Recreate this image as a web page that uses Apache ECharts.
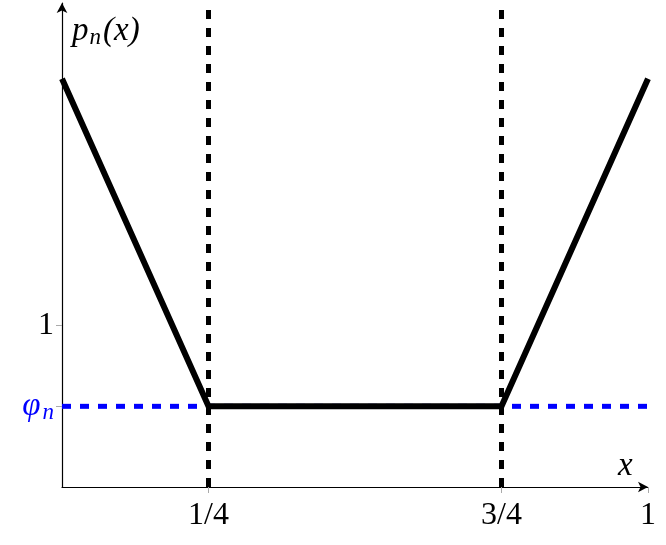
<!DOCTYPE html>
<html>
<head>
<meta charset="utf-8">
<script src="https://cdn.jsdelivr.net/npm/echarts@6/dist/echarts.min.js"></script>
<style>
  html, body { margin: 0; padding: 0; background: #fff; }
  #chart { width: 666px; height: 545px; }
</style>
</head>
<body>
<div id="chart"></div>
<script>
// 折线 p_n(x) 的拐点
const xs = [0, 0.25, 0.75, 1];
const pn = [2.53, 0.5, 0.5, 2.53];
// φ_n 的水平线
const phi = 0.5;
// 竖直虚线位置
const cuts = [0.25, 0.75];
// 刻度
const xTicks = [0.25, 0.75, 1];
const xTickLabels = ['1/4', '3/4', '1'];
const yTicks = [0.5, 1];

const font = 'Liberation Serif';

function initChart() {
    const chart = echarts.init(document.getElementById('chart'));

    const series = [
        {
            name: 'phi',
            type: 'line',
            data: [[0, phi], [1, phi]],
            symbol: 'none',
            lineStyle: { color: '#0000ff', width: 5, type: [9, 9] },
            z: 2
        }
    ];
    cuts.forEach(function (c) {
        series.push({
            type: 'line',
            data: [[c, 0], [c, 3]],
            symbol: 'none',
            lineStyle: { color: '#000', width: 5, type: [9, 9] },
            z: 3
        });
    });
    series.push({
        name: 'pn',
        type: 'line',
        data: xs.map(function (x, i) { return [x, pn[i]]; }),
        symbol: 'none',
        lineStyle: { color: '#000', width: 6, join: 'miter' },
        z: 4
    });

    const option = {
        animation: false,
        grid: { left: 62, right: 18, top: 3, bottom: 58 },
        xAxis: {
            type: 'value',
            min: 0,
            max: 1,
            name: 'x',
            nameLocation: 'end',
            nameGap: -30,
            nameTextStyle: {
                fontFamily: font, fontStyle: 'italic', fontSize: 33, color: '#000',
                verticalAlign: 'bottom', padding: [0, 0, 4, 0]
            },
            axisLine: {
                lineStyle: { color: '#000', width: 1.2 },
                symbol: ['none', 'arrow'],
                symbolSize: [8, 10]
            },
            axisTick: {
                customValues: xTicks,
                length: 6,
                lineStyle: { color: '#aaa' }
            },
            axisLabel: {
                customValues: xTicks,
                formatter: function (v) {
                    return xTickLabels[xTicks.indexOf(v)];
                },
                fontFamily: font, fontSize: 32, color: '#000', margin: 13
            },
            splitLine: { show: false }
        },
        yAxis: {
            type: 'value',
            min: 0,
            max: 3,
            name: '{p|p}{n|n}{p|(x)}',
            nameLocation: 'end',
            nameGap: -46,
            nameTextStyle: {
                align: 'left',
                padding: [0, 0, 0, 10],
                rich: {
                    p: { fontFamily: font, fontStyle: 'italic', fontSize: 33, color: '#000' },
                    n: { fontFamily: font, fontStyle: 'italic', fontSize: 23, color: '#000', padding: [13, 2, 0, 1] }
                }
            },
            axisLine: {
                show: true,
                lineStyle: { color: '#000', width: 1.2 },
                symbol: ['none', 'arrow'],
                symbolSize: [8, 10]
            },
            axisTick: {
                customValues: yTicks,
                length: 6,
                lineStyle: { color: '#aaa' }
            },
            axisLabel: {
                customValues: yTicks,
                formatter: function (v) {
                    return v === phi ? '{phi|φ}{sub|n}' : '{one|' + v + '}';
                },
                margin: 8,
                rich: {
                    phi: { fontFamily: font, fontStyle: 'italic', fontSize: 33, color: '#0000ff' },
                    sub: { fontFamily: font, fontStyle: 'italic', fontSize: 23, color: '#0000ff', padding: [13, 0, 0, 2] },
                    one: { fontFamily: font, fontSize: 32, color: '#000' }
                }
            },
            splitLine: { show: false }
        },
        series: series
    };

    chart.setOption(option);
}

initChart();
</script>
</body>
</html>
